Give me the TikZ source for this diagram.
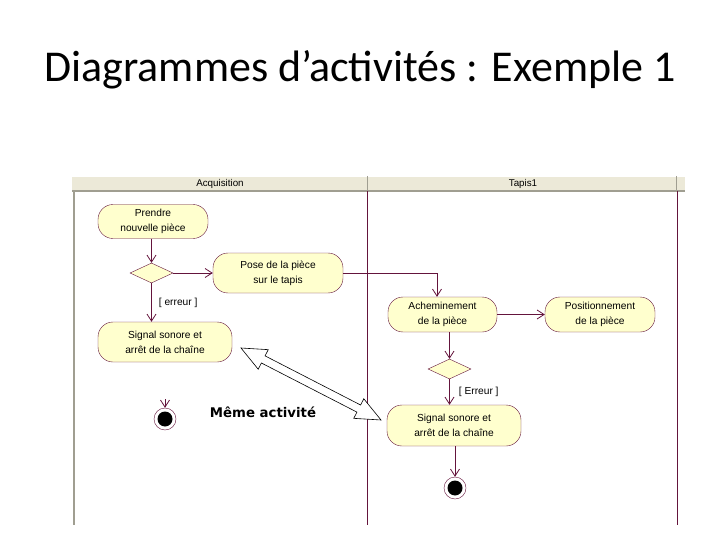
\documentclass[tikz,border=0pt]{standalone}
\usepackage{fontspec}
\setmainfont{Liberation Sans}
\newfontfamily\titlefont{Carlito}
\newfontfamily\boldfont{DejaVu Sans}
\usetikzlibrary{arrows.meta,shapes.geometric,calc}
\definecolor{lane}{RGB}{100,20,60}
\definecolor{actfill}{RGB}{255,255,206}
\definecolor{hdr}{RGB}{236,233,216}
\definecolor{hdrline}{RGB}{160,158,145}
\begin{document}
\begin{tikzpicture}[x=1pt,y=-1pt,
  act/.style={draw=lane, fill=actfill, rounded corners=15pt, align=center,
    font=\fontsize{10.2}{15}\selectfont, inner sep=0pt},
  dec/.style={diamond, aspect=2.1, draw=lane, fill=actfill, minimum width=43pt,
    minimum height=20pt, inner sep=0pt},
  fin/.style={circle, draw=lane, fill=white, minimum size=22pt, inner sep=0pt,
    path picture={\fill[black] (path picture bounding box.center) circle (7.5pt);}},
  flow/.style={draw=lane, line width=0.8pt, -{Straight Barb[length=7pt,width=9pt]}},
  lbl/.style={font=\fontsize{10.2}{12}\selectfont, inner sep=0pt},
  hdrtxt/.style={font=\fontsize{9.8}{12}\selectfont, inner sep=0pt}
]
\useasboundingbox (0,0) rectangle (720,540);

% title
\node[font=\titlefont\fontsize{44}{50}\selectfont] (title) at (360,70) {Diagrammes d’activités : Exemple 1};

% swimlane frame
\fill[hdr] (72,176) rectangle (685,191);
\draw[white, line width=1pt] (72,176.5) -- (685,176.5);
\draw[hdrline, line width=1.5pt] (72,191) -- (685,191);
\draw[hdrline] (367,176) -- (367,191);
\draw[hdrline] (676,176) -- (676,191);
\draw[hdrline, line width=1.5pt] (74,191) -- (74,525);
\draw[lane, line width=0.8pt] (367,191) -- (367,525);
\draw[lane, line width=0.8pt] (677,191) -- (677,525);
\node[hdrtxt] (h1) at (220,184) {Acquisition};
\node[hdrtxt] (h2) at (523,184) {Tapis1};

% activities
\node[act, minimum width=110pt, minimum height=34pt] (prendre) at (153,221.5) {Prendre\\nouvelle pièce};
\node[dec] (d1) at (151.5,273) {};
\node[act, minimum width=130pt, minimum height=40pt] (pose) at (278,273) {Pose de la pièce\\sur le tapis};
\node[act, minimum width=134pt, minimum height=40pt] (sigL) at (165,342) {Signal sonore et\\arrêt de la chaîne};
\node[fin] (finL) at (165,419) {};
\node[act, minimum width=109pt, minimum height=35pt] (ach) at (442.5,314.5) {Acheminement\\de la pièce};
\node[act, minimum width=110pt, minimum height=35pt] (pos) at (600,314.5) {Positionnement\\de la pièce};
\node[dec] (d2) at (449.5,369) {};
\node[act, minimum width=134pt, minimum height=41pt] (sigR) at (454,425.5) {Signal sonore et\\arrêt de la chaîne};
\node[fin] (finR) at (455,488) {};

% flows
\draw[flow] (d1.north |- prendre.south) -- (d1.north);
\draw[flow] (d1.east) -- (pose.west);
\draw[flow] (d1.south) -- node[lbl, right, xshift=7pt] (l1) {[ erreur ]} (d1.south |- sigL.north);
\coordinate (c1) at (437,273);
\draw[flow] (pose.east) -- (c1) -- (c1 |- ach.north);
\draw[flow] (ach.east) -- (pos.west);
\draw[flow] (d2.north |- ach.south) -- (d2.north);
\draw[flow] (d2.south) -- node[lbl, right, xshift=9pt] (l2) {[ Erreur ]} (d2.south |- sigR.north);
\draw[flow] (finR.north |- sigR.south) -- (finR.north);
\coordinate (t0) at (165,399);
\draw[flow] (t0) -- (finL.north);

% annotation
\node[font=\boldfont\bfseries\fontsize{13.3}{16}\selectfont, inner sep=0pt] (meme) at (263,412) {Même activité};
\coordinate (da) at (241,348);
\coordinate (db) at (381,420);
\draw[black, fill=white, line width=0.6pt, line join=miter]
  (da)
  -- ($(da)!25pt!(db)!11pt!90:(db)$)
  -- ($(da)!25pt!(db)!4pt!90:(db)$)
  -- ($(db)!25pt!(da)!4pt!-90:(da)$)
  -- ($(db)!25pt!(da)!11pt!-90:(da)$)
  -- (db)
  -- ($(db)!25pt!(da)!11pt!90:(da)$)
  -- ($(db)!25pt!(da)!4pt!90:(da)$)
  -- ($(da)!25pt!(db)!4pt!-90:(db)$)
  -- ($(da)!25pt!(db)!11pt!-90:(db)$)
  -- cycle;
\end{tikzpicture}
\end{document}
